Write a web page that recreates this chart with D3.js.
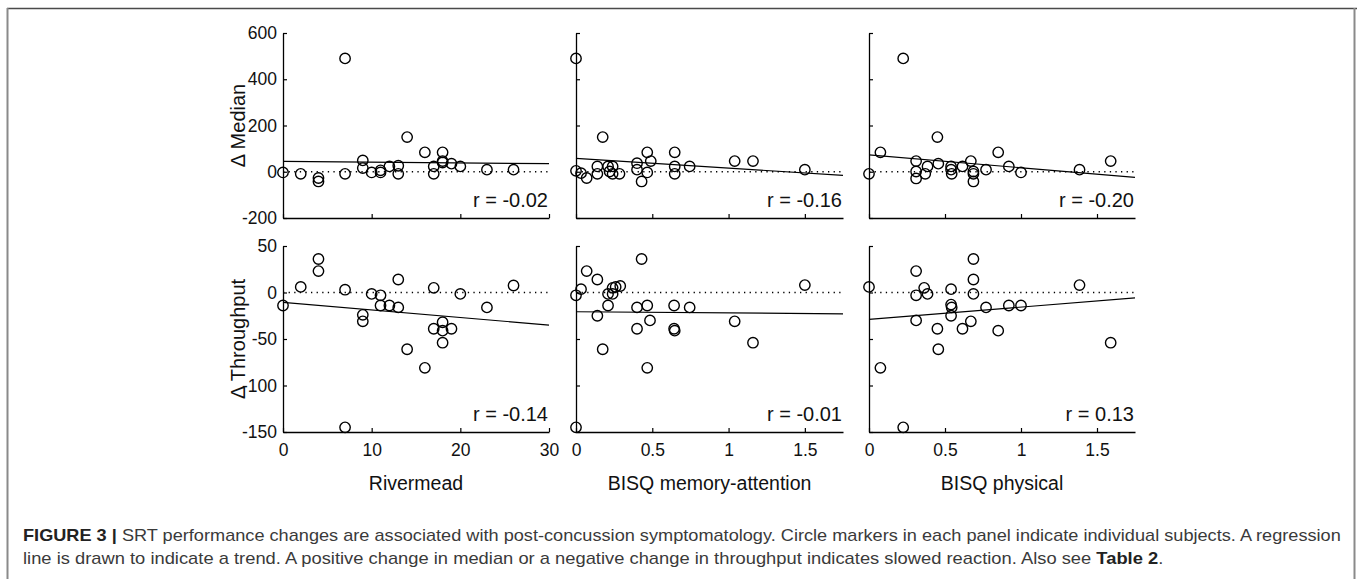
<!DOCTYPE html>
<html>
<head>
<meta charset="utf-8">
<script src="https://cdn.jsdelivr.net/npm/d3@7"></script>
<style>
  html, body { margin: 0; padding: 0; background: #fff; }
  svg { display: block; }
  text { font-family: "Liberation Sans", Arial, Helvetica, sans-serif; }
</style>
</head>
<body>
<svg id="chart" width="1357" height="579"></svg>
<script>
// ---------------- DATA ----------------
const xLabels = ["Rivermead", "BISQ memory-attention", "BISQ physical"];
const yLabels = ["\u0394  Median", "\u0394 Throughput"];
const xDomains = [[0, 30], [0, 1.75], [0, 1.75]];
const xTicksRiv = [0, 10, 20, 30];
const xTicksBisq = [0, 0.5, 1, 1.5];
const yDomainMedian = [-200, 600];
const yTicksMedian = [600, 400, 200, 0, -200];
const yDomainThroughput = [-150, 50];
const yTicksThroughput = [50, 0, -50, -100, -150];

// Δ Median vs Rivermead  [x, y]
const rivMedian = [[0,-3],[2,-9],[4,-27],[4,-42],[7,490],[7,-9],[9,49],[9,16],[10,-3],[11,-3],[11,6],
  [12,23],[13,26],[13,-9],[14,150],[16,84],[17,23],[17,-9],[18,84],[18,46],[18,40],[19,35],[20,23],[23,9],[26,9]];
// Δ Throughput vs Rivermead
const rivThroughput = [[0,-14],[2,6],[4,36],[4,23],[7,3],[7,-145],[9,-24],[9,-31],[10,-1.5],[11,-3],[11,-14],
  [12,-14],[13,14],[13,-16],[14,-61],[16,-81],[17,5],[17,-39],[18,-32],[18,-41],[18,-54],[19,-39],[20,-1.5],[23,-16],[26,7.5]];
// Δ Median vs BISQ memory-attention
const memMedian = [[0,490],[0,4],[0.033,-6],[0.07,-27],[0.14,23],[0.14,-9],[0.175,150],[0.21,23],[0.22,1],
  [0.24,23],[0.24,-9],[0.285,-9],[0.4,37],[0.4,9],[0.43,-42],[0.467,84],[0.467,-3],[0.49,46],[0.647,84],
  [0.647,23],[0.647,-9],[0.745,23],[1.04,46],[1.16,46],[1.5,9]];
// Δ Throughput vs BISQ memory-attention
const memThroughput = [[0,-3],[0.033,3.6],[0.07,23],[0.14,14],[0.14,-25],[0.175,-61],[0.21,-1.5],[0.21,-14],
  [0.24,5],[0.24,-1.5],[0.26,6],[0.29,7],[0.4,-16],[0.4,-39],[0.43,36],[0.467,-14],[0.467,-81],[0.485,-30],
  [0.643,-14],[0.643,-39],[0.647,-41],[0.745,-16],[1.04,-31],[1.16,-54],[1.5,8],[0,-145]];
// Δ Median vs BISQ physical
const physMedian = [[0,-9],[0.075,84],[0.225,490],[0.31,46],[0.31,1],[0.31,-29],[0.37,-9],[0.385,23],[0.45,150],
  [0.456,35],[0.54,23],[0.54,9],[0.544,-9],[0.615,23],[0.67,46],[0.687,1],[0.687,-9],[0.687,-42],[0.77,9],
  [0.85,84],[0.92,23],[1.0,-3],[1.385,9],[1.59,46]];
// Δ Throughput vs BISQ physical
const physThroughput = [[0,6],[0.075,-81],[0.225,-145],[0.31,23],[0.31,-3],[0.31,-30],[0.363,5],[0.385,-1.5],
  [0.45,-39],[0.456,-61],[0.54,3.6],[0.54,-13],[0.544,-16],[0.54,-25],[0.615,-39],[0.67,-31],[0.687,36],
  [0.687,14],[0.687,-1.5],[0.77,-16],[0.85,-41],[0.92,-14],[1.0,-14],[1.385,8],[1.59,-54]];

// regression lines: y at start and end of x domain
const fitRivMedian = [45, 35];
const fitRivThroughput = [-10.7, -35];
const fitMemMedian = [58, -16];
const fitMemThroughput = [-20.7, -22.9];
const fitPhysMedian = [73, -24.5];
const fitPhysThroughput = [-29, -5.7];

const rValues = [["r = -0.02", "r = -0.16", "r = -0.20"], ["r = -0.14", "r = -0.01", "r = 0.13"]];

// ---------------- LAYOUT ----------------
const svg = d3.select("#chart");
const colX = [[283, 549], [576, 843], [869, 1135]];
const rowY = [[218, 33], [432, 246]];

// frame
svg.append("line").attr("x1", 7).attr("x2", 1357).attr("y1", 8.5).attr("y2", 8.5)
  .attr("stroke", "#4a4a4a").attr("stroke-width", 1.4);
svg.append("line").attr("x1", 7.5).attr("x2", 7.5).attr("y1", 8).attr("y2", 579)
  .attr("stroke", "#8a8a8a").attr("stroke-width", 2);
svg.append("line").attr("x1", 1354.5).attr("x2", 1354.5).attr("y1", 8).attr("y2", 579)
  .attr("stroke", "#8a8a8a").attr("stroke-width", 2);

const grid = [
  [rivMedian, memMedian, physMedian],
  [rivThroughput, memThroughput, physThroughput]
];
const fits = [
  [fitRivMedian, fitMemMedian, fitPhysMedian],
  [fitRivThroughput, fitMemThroughput, fitPhysThroughput]
];
const yDomains = [yDomainMedian, yDomainThroughput];
const yTicks = [yTicksMedian, yTicksThroughput];
const xTicks = [xTicksRiv, xTicksBisq, xTicksBisq];

for (let r = 0; r < 2; r++) {
  for (let c = 0; c < 3; c++) {
    const x = d3.scaleLinear().domain(xDomains[c]).range(colX[c]);
    const y = d3.scaleLinear().domain(yDomains[r]).range(rowY[r]);
    const g = svg.append("g");

    // zero dotted line
    g.append("line")
      .attr("x1", x(xDomains[c][0])).attr("x2", x(xDomains[c][1]))
      .attr("y1", y(0)).attr("y2", y(0))
      .attr("stroke", "#000").attr("stroke-width", 1.3)
      .attr("stroke-dasharray", "1.3,4.3");

    // regression line
    g.append("line")
      .attr("x1", x(xDomains[c][0])).attr("x2", x(xDomains[c][1]))
      .attr("y1", y(fits[r][c][0])).attr("y2", y(fits[r][c][1]))
      .attr("stroke", "#000").attr("stroke-width", 1.2);

    // y axis
    const ya = d3.axisLeft(y).tickValues(yTicks[r]).tickSize(-4).tickSizeOuter(0).tickPadding(6)
      .tickFormat(c === 0 ? (d => String(d)) : (() => ""));
    const yg = g.append("g").attr("transform", `translate(${colX[c][0]},0)`).call(ya);
    // x axis
    const xa = d3.axisBottom(x).tickValues(xTicks[c]).tickSize(-4).tickSizeOuter(0).tickPadding(12)
      .tickFormat(r === 1 ? (d => String(d)) : (() => ""));
    const xg = g.append("g").attr("transform", `translate(0,${rowY[r][0]})`).call(xa);

    [yg, xg].forEach(a => {
      a.selectAll("path.domain").attr("stroke", "#000").attr("stroke-width", 1.3);
      a.selectAll(".tick line").attr("stroke", "#000").attr("stroke-width", 1.2);
      a.selectAll("text").attr("font-size", 17.5).attr("fill", "#111")
        .attr("font-family", '"Liberation Sans", Arial, sans-serif');
    });

    // points
    g.selectAll("circle").data(grid[r][c]).join("circle")
      .attr("cx", d => x(d[0])).attr("cy", d => y(d[1])).attr("r", 5.2)
      .attr("fill", "none").attr("stroke", "#000").attr("stroke-width", 1.4);

    // r value
    g.append("text")
      .attr("x", colX[c][1] - 1).attr("y", rowY[r][0] - 11.5)
      .attr("text-anchor", "end").attr("font-size", 20).attr("fill", "#111")
      .text(rValues[r][c]);

    // x label
    if (r === 1) {
      g.append("text")
        .attr("x", (colX[c][0] + colX[c][1]) / 2).attr("y", 490)
        .attr("text-anchor", "middle").attr("font-size", 19.5).attr("fill", "#111")
        .text(xLabels[c]);
    }
    // y label
    if (c === 0) {
      const cy = (rowY[r][0] + rowY[r][1]) / 2;
      g.append("text")
        .attr("transform", `translate(245,${cy}) rotate(-90)`)
        .attr("text-anchor", "middle").attr("font-size", 20).attr("fill", "#111")
        .text(yLabels[r]);
    }
  }
}

// ---------------- CAPTION ----------------
const capLines = [
  { y: 541, width: 1318, parts: [["FIGURE 3 |", true], [" SRT performance changes are associated with post-concussion symptomatology. Circle markers in each panel indicate individual subjects. A regression", false]] },
  { y: 563.5, width: 1141, parts: [["line is drawn to indicate a trend. A positive change in median or a negative change in throughput indicates slowed reaction. Also see ", false], ["Table 2", true], [".", false]] }
];
capLines.forEach(l => {
  const t = svg.append("text").attr("x", 0).attr("y", 0).attr("font-size", 16).attr("fill", "#3a3a3a");
  l.parts.forEach(p => {
    t.append("tspan").attr("font-weight", p[1] ? "bold" : "normal")
      .attr("fill", p[1] ? "#222" : "#3a3a3a").text(p[0]);
  });
  const w = t.node().getComputedTextLength();
  t.attr("transform", `translate(23,${l.y}) scale(${l.width / w},1)`);
});
</script>
</body>
</html>
